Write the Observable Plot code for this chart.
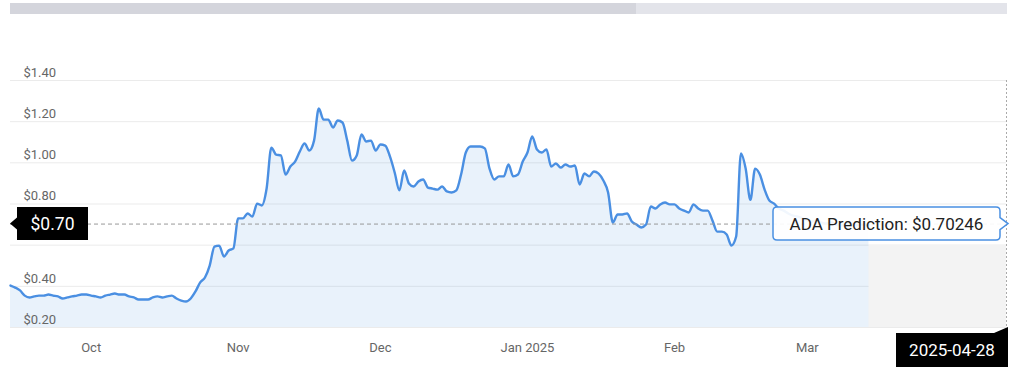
<!DOCTYPE html>
<html><head><meta charset="utf-8">
<script src="https://cdn.jsdelivr.net/npm/d3@7"></script>
<script src="https://cdn.jsdelivr.net/npm/@observablehq/plot@0.6"></script>
<style>
body{margin:0;background:#fff;font-family:Roboto,"Liberation Sans",sans-serif;}
#wrap{position:relative;width:1024px;height:377px;overflow:hidden}
.bar{position:absolute;top:3px;height:11px}
#wrap svg{position:absolute;left:0;top:0}
</style></head><body>
<div id="wrap">
<div class="bar" style="left:10px;width:626px;background:#d4d5dc"></div>
<div class="bar" style="left:636px;width:371px;background:#e3e4ea"></div>
</div>
<script>
// ADA daily closing prices (USD), first day = startDate
const startDate = "2024-09-14";
const prices = [
 .404,.394,.380,.355,.346,.351,.355,.355,.360,.355,
 .351,.341,.346,.351,.355,.360,.360,.355,.351,.346,
 .355,.360,.365,.360,.360,.351,.346,.336,.336,.336,
 .346,.351,.346,.351,.355,.341,.331,.326,.341,.375,
 .419,.443,.501,.593,.598,.545,.574,.584,.730,.730,
 .754,.739,.802,.793,.875,1.074,1.040,1.036,.943,.982,
 1.006,1.055,1.094,1.060,1.108,1.264,1.210,1.210,1.172,1.206,
 1.196,1.108,1.011,1.036,1.138,1.104,1.108,1.060,1.089,1.084,
 1.031,.953,.866,.963,.900,.885,.909,.919,.880,.875,
 .870,.885,.861,.856,.866,.943,1.050,1.079,1.079,1.079,
 1.070,.972,.919,.934,.934,.992,.934,.943,1.006,1.050,
 1.128,1.065,1.050,1.065,.982,.997,.977,.992,.982,.987,
 .895,.948,.934,.958,.948,.914,.856,.710,.749,.749,
 .754,.715,.700,.686,.700,.788,.778,.798,.807,.798,
 .798,.778,.768,.759,.798,.778,.768,.768,.720,.666,
 .666,.652,.598,.642,1.045,.972,.820,.972,.943,.870,
 .817,.802,.778,.768,.754,.744,.739,.730,.720,.715,
 .720,.710,.705,.710,.700,.696,.700,.705,.696,.700,
 .700,.700
];
const forecastStart = "2025-03-14";
const forecastEnd = "2025-04-12";
const forecastLevel = 0.60;
const predictionValue = 0.70246;
const predictionLabel = "ADA Prediction: $0.70246";
const predictionTag = "$0.70";
const predictionDate = "2025-04-28";
const yTicks = [0.2, 0.4, 0.6, 0.8, 1.0, 1.2, 1.4];
const yTickLabels = [0.2, 0.4, 0.8, 1.0, 1.2, 1.4]; // $0.60 sits under the price tag
const xTicks = ["2024-10-01","2024-11-01","2024-12-01","2025-01-01","2025-02-01","2025-03-01"];
const xTickLabels = ["Oct","Nov","Dec","Jan 2025","Feb","Mar"];

const start = new Date(startDate);
const data = prices.map((v, i) => ({date: d3.utcDay.offset(start, i), v}));
const tickDates = xTicks.map(d => new Date(d));
const labelMap = new Map(tickDates.map((d, i) => [+d, xTickLabels[i]]));

const plot = Plot.plot({
  width: 1024, height: 377,
  marginTop: 80, marginBottom: 50, marginLeft: 10, marginRight: 18,
  style: {fontFamily: "Roboto, sans-serif", fontSize: "13px", color: "#666", background: "transparent"},
  x: {type: "utc", domain: [start, new Date(forecastEnd)], axis: null},
  y: {domain: [0.2, 1.4], axis: null},
  marks: [
    Plot.ruleY(yTicks, {stroke: "#ebebeb"}),
    Plot.rect([{a: new Date(forecastStart), b: new Date(forecastEnd)}],
      {x1: "a", x2: "b", y1: 0.2, y2: forecastLevel, fill: "#f3f3f3"}),
    Plot.areaY(data, {x: "date", y1: 0.2, y2: "v", fill: "#4a90e2", fillOpacity: 0.12}),
    Plot.lineY(data, {x: "date", y: "v", stroke: "#4a8fe2", strokeWidth: 2.4, curve: "monotone-x"}),
    Plot.text(yTickLabels, {y: d => d, frameAnchor: "left", dx: 13, dy: -8, textAnchor: "start",
      text: d => "$" + d.toFixed(2), fill: "#666", fontSize: 13}),
    Plot.axisX({ticks: tickDates, tickFormat: d => labelMap.get(+d), tickSize: 0, tickPadding: 15,
      fill: "#666", fontSize: 13}),
    Plot.ruleY([predictionValue], {stroke: "#999", strokeDasharray: "4,3"}),
    Plot.ruleX([new Date(forecastEnd)], {stroke: "#aaa", strokeDasharray: "2,2"})
  ]
});

document.getElementById("wrap").appendChild(plot);

// annotations positioned with the plot's scales
const xs = plot.scale("x"), ys = plot.scale("y");
const left = xs.range[0], right = xs.range[1];
const bottom = ys.apply(0.2);
const yp = ys.apply(predictionValue);
const g = d3.select(plot).append("g").attr("font-family", "Roboto, sans-serif");

// black price tag on the left
g.append("path")
  .attr("d", `M${left},${yp} L${left + 7},${yp - 6} L${left + 7},${yp - 16.5} L${left + 78},${yp - 16.5} L${left + 78},${yp + 16.5} L${left + 7},${yp + 16.5} L${left + 7},${yp + 6} Z`)
  .attr("fill", "#000");
g.append("text").attr("x", left + 42.5).attr("y", yp).attr("dy", "0.35em")
  .attr("text-anchor", "middle").attr("fill", "#fff").attr("font-size", 17.5).text(predictionTag);

// prediction callout box
const bx0 = right - 233, bx1 = right - 6, by0 = yp - 16.5, by1 = yp + 16.5, r = 4;
g.append("path")
  .attr("d", `M${bx0 + r},${by0} L${bx1 - r},${by0} Q${bx1},${by0} ${bx1},${by0 + r} L${bx1},${yp - 6} L${right + 2},${yp} L${bx1},${yp + 6} L${bx1},${by1 - r} Q${bx1},${by1} ${bx1 - r},${by1} L${bx0 + r},${by1} Q${bx0},${by1} ${bx0},${by1 - r} L${bx0},${by0 + r} Q${bx0},${by0} ${bx0 + r},${by0} Z`)
  .attr("fill", "#fff").attr("fill-opacity", 0.92)
  .attr("stroke", "#4a90e2").attr("stroke-width", 1.5);
g.append("text").attr("x", (bx0 + bx1) / 2).attr("y", yp).attr("dy", "0.36em")
  .attr("text-anchor", "middle").attr("fill", "#222").attr("font-size", 17).text(predictionLabel);

// date tag at the bottom right
const tx1 = right + 2, tx0 = right - 110, ty0 = bottom + 6, ty1 = bottom + 40;
g.append("path")
  .attr("d", `M${tx0},${ty0} L${tx1 - 14},${ty0} L${tx1},${bottom} L${tx1},${ty1} L${tx0},${ty1} Z`)
  .attr("fill", "#000");
g.append("text").attr("x", (tx0 + tx1) / 2).attr("y", (ty0 + ty1) / 2).attr("dy", "0.35em")
  .attr("text-anchor", "middle").attr("fill", "#fff").attr("font-size", 17).text(predictionDate);
</script>
</body></html>
